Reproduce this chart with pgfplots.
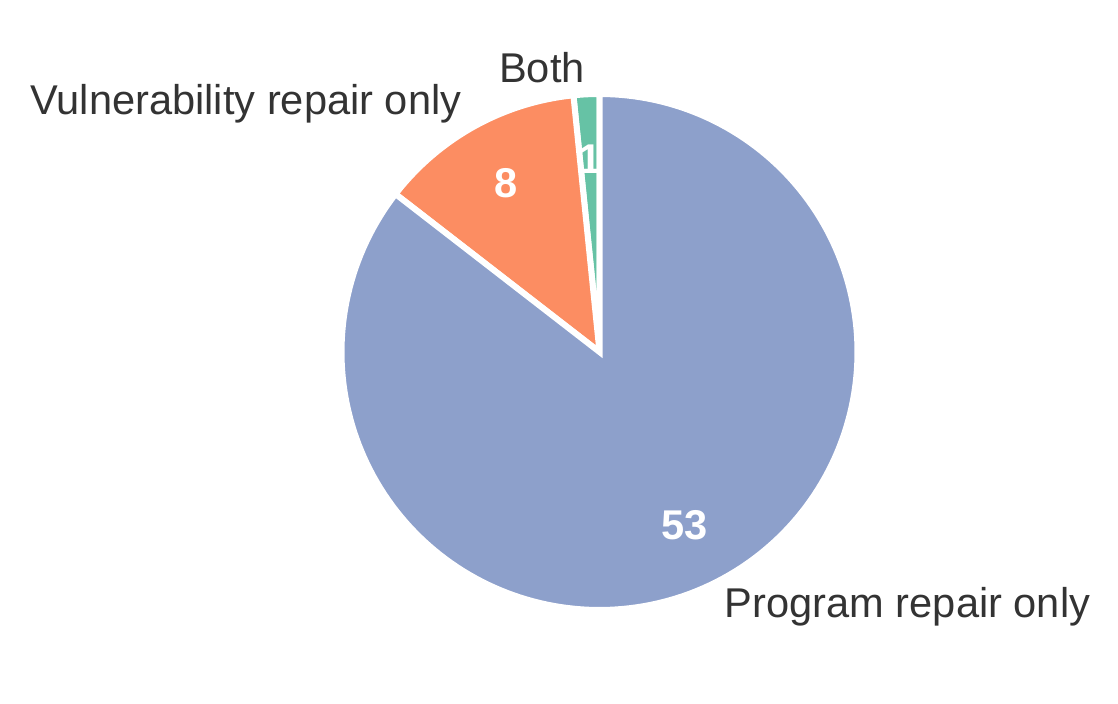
\documentclass[border=0pt]{standalone}
\usepackage{pgfplots}
\usepackage{pgfplotstable}
\pgfplotsset{compat=1.18}
\usepackage{fontspec}
\setmainfont{Liberation Sans}
\definecolor{cG}{HTML}{66C2A5}
\definecolor{cO}{HTML}{FC8D62}
\definecolor{cB}{HTML}{8DA0CB}
\definecolor{txt}{HTML}{333333}
\pgfplotstableread{
label count
Both 1
Vuln 8
Program 53
}\piedata
\pgfplotstablegetelem{0}{count}\of\piedata\let\vA\pgfplotsretval
\pgfplotstablegetelem{1}{count}\of\piedata\let\vB\pgfplotsretval
\pgfplotstablegetelem{2}{count}\of\piedata\let\vC\pgfplotsretval
\pgfmathsetmacro{\tot}{\vA+\vB+\vC}
\pgfmathsetmacro{\aA}{90}
\pgfmathsetmacro{\aB}{90+360*\vA/\tot}
\pgfmathsetmacro{\aC}{\aB+360*\vB/\tot}
\pgfmathsetmacro{\aD}{450}
\def\cx{599.5}\def\cy{352}\def\R{258}
\pgfmathsetmacro{\mA}{(\aA+\aB)/2}
\pgfmathsetmacro{\mB}{(\aB+\aC)/2}
\pgfmathsetmacro{\mC}{(\aC+\aD)/2}
\pgfmathsetmacro{\lAx}{\cx+1.1*\R*cos(\mA)}\pgfmathsetmacro{\lAy}{\cy+1.1*\R*sin(\mA)}
\pgfmathsetmacro{\lBx}{\cx+1.1*\R*cos(\mB)}\pgfmathsetmacro{\lBy}{\cy+1.1*\R*sin(\mB)}
\pgfmathsetmacro{\lCx}{\cx+1.1*\R*cos(\mC)}\pgfmathsetmacro{\lCy}{\cy+1.1*\R*sin(\mC)}
\pgfmathsetmacro{\pAx}{\cx+0.75*\R*cos(\mA)}\pgfmathsetmacro{\pAy}{\cy+0.75*\R*sin(\mA)}
\pgfmathsetmacro{\pBx}{\cx+0.75*\R*cos(\mB)}\pgfmathsetmacro{\pBy}{\cy+0.75*\R*sin(\mB)}
\pgfmathsetmacro{\pCx}{\cx+0.75*\R*cos(\mC)}\pgfmathsetmacro{\pCy}{\cy+0.75*\R*sin(\mC)}
\begin{document}
\begin{tikzpicture}
\begin{axis}[width=559pt,height=352pt,scale only axis,hide axis,
  xmin=0,xmax=1118,ymin=0,ymax=704,clip=false]
\addplot[draw=none] coordinates {(0,0) (1118,704)};
\addplot[fill=cG, draw=white, line width=3pt, domain=\aA:\aB, samples=20, variable=\t]
  ({\cx+\R*cos(\t)},{\cy+\R*sin(\t)}) -- (axis cs:\cx,\cy) -- cycle;
\addplot[fill=cO, draw=white, line width=3pt, domain=\aB:\aC, samples=60, variable=\t]
  ({\cx+\R*cos(\t)},{\cy+\R*sin(\t)}) -- (axis cs:\cx,\cy) -- cycle;
\addplot[fill=cB, draw=white, line width=3pt, domain=\aC:\aD, samples=200, variable=\t]
  ({\cx+\R*cos(\t)},{\cy+\R*sin(\t)}) -- (axis cs:\cx,\cy) -- cycle;
\node[anchor=east, inner sep=0pt, text=txt, font=\fontsize{20.8}{24}\selectfont] at (axis cs:\lAx,{\lAy+1}) {Both};
\node[anchor=east, inner sep=0pt, text=txt, font=\fontsize{20.8}{24}\selectfont] at (axis cs:\lBx,\lBy) {Vulnerability repair only};
\node[anchor=west, inner sep=0pt, text=txt, font=\fontsize{20.8}{24}\selectfont] at (axis cs:\lCx,\lCy) {Program repair only};
\node[inner sep=0pt, text=white, font=\bfseries\fontsize{20.8}{24}\selectfont] at (axis cs:\pAx,\pAy) {1};
\node[inner sep=0pt, text=white, font=\bfseries\fontsize{20.8}{24}\selectfont] at (axis cs:\pBx,\pBy) {8};
\node[inner sep=0pt, text=white, font=\bfseries\fontsize{20.8}{24}\selectfont] at (axis cs:\pCx,\pCy) {53};
\end{axis}
\end{tikzpicture}
\end{document}
